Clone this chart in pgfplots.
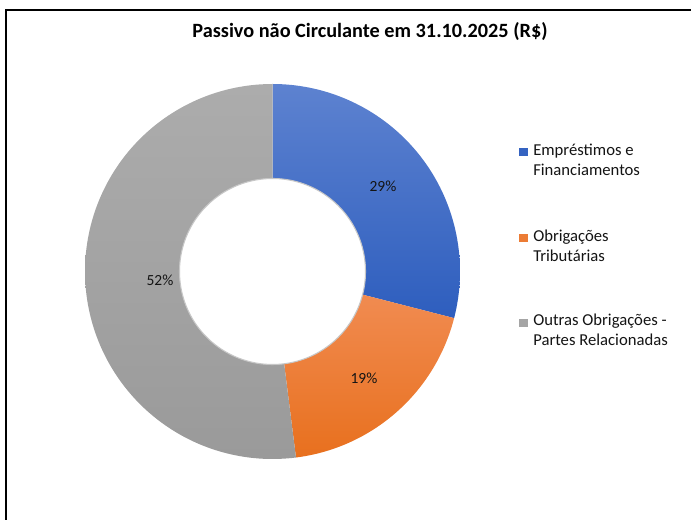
\documentclass[border=0pt]{standalone}
\usepackage{pgfplots}
\pgfplotsset{compat=1.18}
\usepackage{fontspec}
\setmainfont{Carlito}
\definecolor{blueT}{RGB}{93,130,208}
\definecolor{blueB}{RGB}{46,94,190}
\definecolor{orangeT}{RGB}{242,143,88}
\definecolor{orangeB}{RGB}{232,112,30}
\definecolor{grayT}{RGB}{172,172,172}
\definecolor{grayB}{RGB}{154,154,154}
\definecolor{txt}{RGB}{20,20,20}
% data (percent)
\def\vA{29}
\def\vB{19}
\def\vC{52}
\def\cx{272.5}
\def\cy{248.5}
\def\R{187.5}
\def\r{93}
\begin{document}
\begin{tikzpicture}
\pgfmathsetmacro{\aA}{90}
\pgfmathsetmacro{\aB}{90-3.6*\vA}
\pgfmathsetmacro{\aC}{\aB-3.6*\vB}
\pgfmathsetmacro{\aD}{\aC-3.6*\vC}
\begin{axis}[
  at={(0,0)}, anchor=south west,
  width=518.25pt, height=390pt, scale only axis,
  xmin=0, xmax=691, ymin=0, ymax=520,
  axis lines=none, clip=false,
]
\coordinate (BL) at (axis cs:0,0);
\coordinate (TR) at (axis cs:691,520);
% slices
\addplot[draw=none, top color=blueT, bottom color=blueB, domain=\aB:\aA, samples=100, variable=\t]
  ({\cx+\R*cos(\t)},{\cy+\R*sin(\t)}) -- (axis cs:\cx,\cy) -- cycle;
\addplot[draw=none, top color=orangeT, bottom color=orangeB, domain=\aC:\aB, samples=80, variable=\t]
  ({\cx+\R*cos(\t)},{\cy+\R*sin(\t)}) -- (axis cs:\cx,\cy) -- cycle;
\addplot[draw=none, top color=grayT, bottom color=grayB, domain=\aD:\aC, samples=150, variable=\t]
  ({\cx+\R*cos(\t)},{\cy+\R*sin(\t)}) -- (axis cs:\cx,\cy) -- cycle;
% hole
\addplot[fill=white, draw=black!22, line width=0.8pt, domain=0:360, samples=160, variable=\t]
  ({\cx+\r*cos(\t)},{\cy+\r*sin(\t)}) -- cycle;
% data labels
\node[font=\fontsize{11.6}{13}\selectfont, text=txt] at (axis cs:383,334) {\vA\%};
\node[font=\fontsize{11.6}{13}\selectfont, text=txt] at (axis cs:364,142) {\vB\%};
\node[font=\fontsize{11.6}{13}\selectfont, text=txt] at (axis cs:160,240) {\vC\%};
% title
\node[font=\fontsize{15.2}{17}\selectfont\bfseries, text=black] at (axis cs:370,488) {Passivo não Circulante em 31.10.2025 (R\$)};
% legend
\fill[blueB!85!blueT] (axis cs:518.5,363.5) rectangle (axis cs:527.5,371.5);
\fill[orangeB!60!orangeT] (axis cs:518.5,277.5) rectangle (axis cs:527.5,285.5);
\fill[grayT!60!grayB] (axis cs:518.5,193) rectangle (axis cs:527.5,201);
\begin{scope}[every node/.style={font=\fontsize{12.5}{15}\selectfont, text=txt, anchor=base west, inner sep=0pt}]
\node at (axis cs:533,364) {Empréstimos e};
\node at (axis cs:533,344) {Financiamentos};
\node at (axis cs:533,278) {Obrigações};
\node at (axis cs:533,258) {Tributárias};
\node at (axis cs:533,194) {Outras Obrigações -};
\node at (axis cs:533,174) {Partes Relacionadas};
\end{scope}
% frame (only top and left visible)
\draw[black, line width=1.5pt] (axis cs:6,0) -- (axis cs:6,510) -- (axis cs:691,510);
\end{axis}
\pgfresetboundingbox
\path[use as bounding box] (BL) rectangle (TR);
\end{tikzpicture}
\end{document}
